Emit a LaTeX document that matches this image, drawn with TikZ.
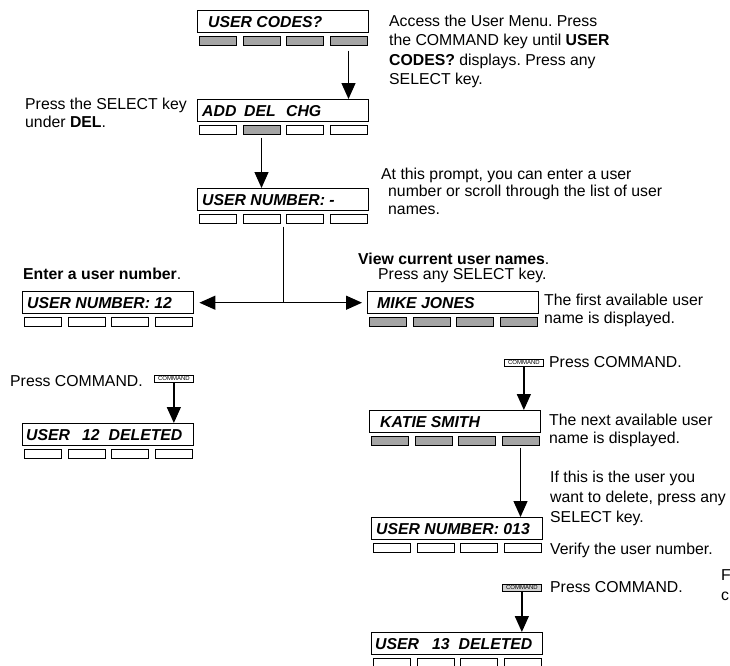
\documentclass[tikz,border=0pt]{standalone}
\usepackage{fontspec}
\setmainfont{Liberation Sans}
\usetikzlibrary{arrows.meta,calc}
\frenchspacing
\definecolor{keygray}{RGB}{165,165,165}
\tikzset{
  lcdbox/.style={draw, line width=1.4pt, minimum width=171pt, minimum height=22pt, inner sep=0pt, anchor=north west},
  lcdtext/.style={font=\fontsize{15.8pt}{18pt}\selectfont\bfseries\itshape, anchor=west, inner sep=0pt},
  keybox/.style={draw, line width=1pt, minimum width=37pt, minimum height=8.5pt, inner sep=0pt, anchor=north west},
  keyon/.style={keybox, fill=keygray},
  keyoff/.style={keybox, fill=white},
  arr/.style={line width=1.3pt, -{Triangle[length=16pt,width=14pt]}},
  txt/.style={anchor=north west, inner sep=0pt, align=left},
  cmdkey/.style={draw, line width=0.7pt, minimum width=39pt, minimum height=7pt, inner sep=0pt, font=\fontsize{6pt}{6pt}\selectfont, anchor=north west},
}
% #1 name, #2 x, #3 y, #4 text inset, #5 text, #6-#9 key styles
\newcommand\lcdunit[9]{%
  \node[lcdbox] (#1) at (#2,#3) {};
  \node[lcdtext] (#1t) at ($(#1.west)+(#4,0)$) {#5};
  \node[#6] (#1k1) at ($(#2,#3)+(2,26)$) {};
  \node[#7] (#1k2) at ($(#2,#3)+(45.5,26)$) {};
  \node[#8] (#1k3) at ($(#2,#3)+(89,26)$) {};
  \node[#9] (#1k4) at ($(#2,#3)+(132.5,26)$) {};
}
\begin{document}
\begin{tikzpicture}[x=1pt,y=-1pt,font=\fontsize{15.8pt}{19.5pt}\selectfont]
\useasboundingbox (0,0) rectangle (730,665);
\clip (0,0) rectangle (730,665);
\fill[white] (0,0) rectangle (730,665);

% displays
\lcdunit{b1}{197}{10}{11}{USER CODES?}{keyon}{keyon}{keyon}{keyon}
\lcdunit{b2}{197}{99}{5}{\makebox[42pt][l]{ADD}\makebox[42pt][l]{DEL}CHG}{keyoff}{keyon}{keyoff}{keyoff}
\lcdunit{b3}{197}{188}{5}{USER NUMBER: -}{keyoff}{keyoff}{keyoff}{keyoff}
\lcdunit{b4}{22}{291}{5}{USER NUMBER: 12}{keyoff}{keyoff}{keyoff}{keyoff}
\lcdunit{b5}{367}{291}{10}{MIKE JONES}{keyon}{keyon}{keyon}{keyon}
\lcdunit{b6}{22}{423}{4}{USER\hspace{12pt}12\hspace{9pt}DELETED}{keyoff}{keyoff}{keyoff}{keyoff}
\lcdunit{b7}{369}{410}{11}{KATIE SMITH}{keyon}{keyon}{keyon}{keyon}
\lcdunit{b8}{371}{517}{5}{USER NUMBER: 013}{keyoff}{keyoff}{keyoff}{keyoff}
\lcdunit{b9}{371}{632}{4}{USER\hspace{13pt}13\hspace{9pt}DELETED}{keyoff}{keyoff}{keyoff}{keyoff}

% small COMMAND keys
\node[cmdkey] (c1) at (154,375) {COMMAND};
\node[cmdkey] (c2) at (504,359) {COMMAND};
\node[cmdkey, fill=gray!35] (c3) at (502,584) {COMMAND};

% connectors
\draw[arr] ([yshift=-5pt]b1k4.south) -- (b1k4.south |- b2.north);
\draw[arr] ([yshift=-3pt]b2k2.south) -- (b2k2.south |- b3.north);
\coordinate (j) at (b3.south |- b4.east);
\draw[line width=1.3pt] ([yshift=-3pt]b3.south |- b3k1.south) -- (j);
\draw[arr] (j) -- ([xshift=5pt]b4.east);
\draw[arr] (j) -- ([xshift=-5pt]b5.west);
\draw[arr] (c1.south) -- (c1.south |- b6.north);
\draw[arr] (c2.south) -- (c2.south |- b7.north);
\draw[arr] ([yshift=-2pt]b7k4.south) -- (b7k4.south |- b8.north);
\draw[arr] (c3.south) -- (c3.south |- b9.north);

% texts
\node[txt, font=\fontsize{15.8pt}{19.6pt}\selectfont] (t1) at (389,14.5) {Access the User Menu. Press\\the COMMAND key until \textbf{USER}\\\textbf{CODES?} displays. Press any\\SELECT key.};
\node[txt, font=\fontsize{15.8pt}{18.5pt}\selectfont] (t2) at (25,97.5) {Press the SELECT key\\under \textbf{DEL}.};
\node[txt, font=\fontsize{15.8pt}{17.5pt}\selectfont] (t3) at (388,167.5) {\hspace*{-7pt}At this prompt, you can enter a user\\number or scroll through the list of user\\names.};
\node[txt] (t4) at (358,252.5) {\textbf{View current user names}.};
\node[txt] (t5) at (378,267.5) {Press any SELECT key.};
\node[txt] (t6) at (23,268) {\textbf{Enter a user number}.};
\node[txt, font=\fontsize{15.8pt}{18pt}\selectfont] (t7) at (544,293.5) {The first available user\\name is displayed.};
\node[txt] (t8) at (10,375) {Press COMMAND.};
\node[txt] (t9) at (549,356.5) {Press COMMAND.};
\node[txt, font=\fontsize{15.8pt}{18.5pt}\selectfont] (t10) at (549,413.5) {The next available user\\name is displayed.};
\node[txt, font=\fontsize{15.8pt}{19.7pt}\selectfont] (t11) at (550,471) {If this is the user you\\want to delete, press any\\SELECT key.};
\node[txt] (t12) at (550,542.5) {Verify the user number.};
\node[txt] (t13) at (550,581.5) {Press COMMAND.};
\node[txt, font=\fontsize{15.8pt}{20pt}\selectfont] (t14) at (721,569.5) {F\\c};
\end{tikzpicture}
\end{document}
